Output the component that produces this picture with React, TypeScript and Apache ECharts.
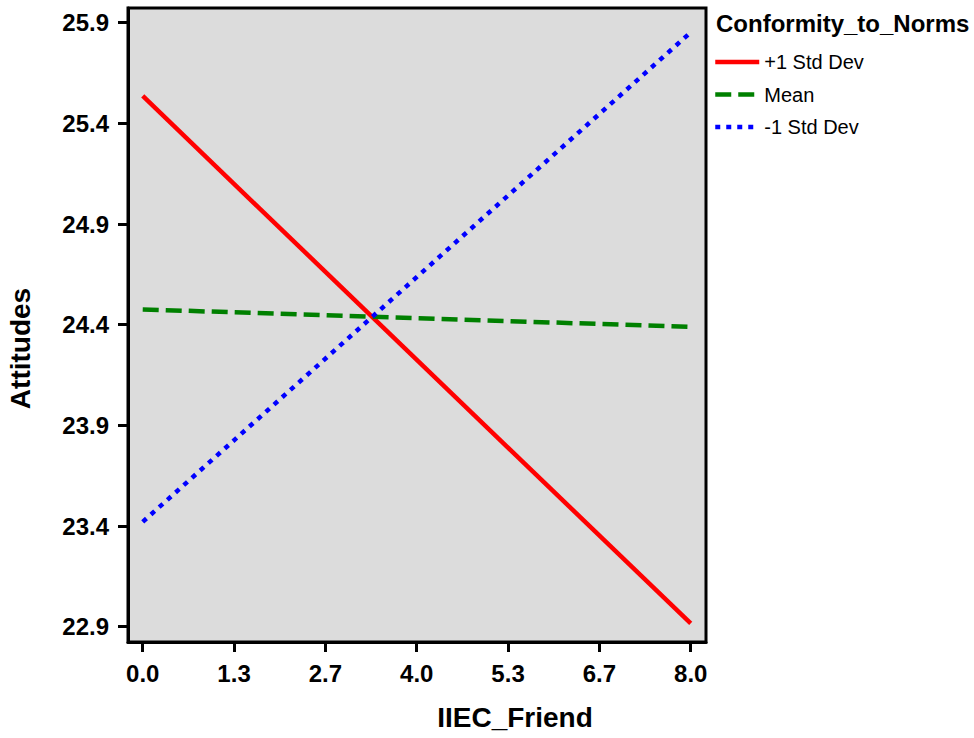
import React, { useEffect, useRef } from "react";
import * as echarts from "echarts";

const xValues = [0, 8];
const plusOneSD = [25.536, 22.916];
const meanValues = [24.476, 24.389];
const minusOneSD = [23.421, 25.852];
const xTicks = [0, 4 / 3, 8 / 3, 4, 16 / 3, 20 / 3, 8];
const yTicks = [22.9, 23.4, 23.9, 24.4, 24.9, 25.4, 25.9];
const seriesNames = ["+1 Std Dev", "Mean", "-1 Std Dev"];

const FONT = 'Arial, "Liberation Sans", sans-serif';

const RED = "#ff0000";
const GREEN = "#008000";
const BLUE = "#0000ff";
const WIDTH = 4.5;
const DASH: number[] = [16, 7];
const DOT: number[] = [5, 6];

export default function App() {
  const ref = useRef<HTMLDivElement>(null);
  useEffect(() => {
    document.body.style.margin = "0";
    const chart = echarts.init(ref.current!, null, { renderer: "svg" });
    const pair = (ys: number[]) => xValues.map((x, i) => [x, ys[i]]);
    chart.setOption({
      animation: false,
      backgroundColor: "#ffffff",
      title: {
        text: "Conformity_to_Norms",
        left: 711,
        top: 6,
        textStyle: { fontFamily: FONT, fontSize: 24, fontWeight: "bold", color: "#000" },
      },
      legend: {
        orient: "vertical",
        left: 708,
        top: 47,
        itemWidth: 44,
        itemHeight: 20,
        itemGap: 12.5,
        itemStyle: { opacity: 0 },
        data: [
          { name: seriesNames[0], lineStyle: { color: RED, width: WIDTH, type: "solid" } },
          { name: seriesNames[1], lineStyle: { color: GREEN, width: WIDTH, type: DASH } },
          { name: seriesNames[2], lineStyle: { color: BLUE, width: WIDTH, type: DOT } },
        ],
        textStyle: { fontFamily: FONT, fontSize: 20, color: "#000", lineHeight: 20 },
      },
      grid: {
        left: 128,
        right: 268,
        top: 8,
        bottom: 96,
        outerBoundsMode: "none",
        containLabel: false,
        show: true,
        backgroundColor: "#dcdcdc",
        borderColor: "#000",
        borderWidth: 3,
      },
      xAxis: {
        type: "value",
        min: -0.215,
        max: 8.223,
        name: "IIEC_Friend",
        nameLocation: "middle",
        nameGap: 61,
        nameTextStyle: {
          fontFamily: FONT,
          fontSize: 28,
          fontWeight: "bold",
          color: "#000",
          padding: [0, 0, 0, 196],
        },
        axisLine: { show: true, onZero: false, lineStyle: { color: "#000", width: 3 } },
        axisTick: { show: true, inside: false, length: 10, lineStyle: { color: "#000", width: 3 }, customValues: xTicks },
        axisLabel: {
          customValues: xTicks,
          margin: 19,
          fontFamily: FONT,
          fontSize: 24,
          fontWeight: "bold",
          color: "#000",
          formatter: (v: number) => v.toFixed(1),
        },
        splitLine: { show: false },
      },
      yAxis: {
        type: "value",
        min: 22.824,
        max: 25.973,
        name: "Attitudes",
        nameLocation: "middle",
        nameGap: 94,
        nameTextStyle: {
          fontFamily: FONT,
          fontSize: 28,
          fontWeight: "bold",
          color: "#000",
          padding: [0, 47, 0, 0],
        },
        axisLine: { show: true, onZero: false, lineStyle: { color: "#000", width: 3 } },
        axisTick: { show: true, inside: false, length: 10, lineStyle: { color: "#000", width: 3 }, customValues: yTicks },
        axisLabel: {
          customValues: yTicks,
          margin: 19,
          fontFamily: FONT,
          fontSize: 24,
          fontWeight: "bold",
          color: "#000",
          formatter: (v: number) => v.toFixed(1),
        },
        splitLine: { show: false },
      },
      series: [
        {
          name: seriesNames[0],
          type: "line",
          symbol: "none",
          data: pair(plusOneSD),
          itemStyle: { color: RED },
          lineStyle: { color: RED, width: WIDTH, type: "solid" },
        },
        {
          name: seriesNames[1],
          type: "line",
          symbol: "none",
          data: pair(meanValues),
          itemStyle: { color: GREEN },
          lineStyle: { color: GREEN, width: WIDTH, type: DASH },
        },
        {
          name: seriesNames[2],
          type: "line",
          symbol: "none",
          data: pair(minusOneSD),
          itemStyle: { color: BLUE },
          lineStyle: { color: BLUE, width: WIDTH, type: DOT },
        },
      ],
    });
    return () => chart.dispose();
  }, []);
  return <div ref={ref} style={{ width: 974, height: 738 }} />;
}
